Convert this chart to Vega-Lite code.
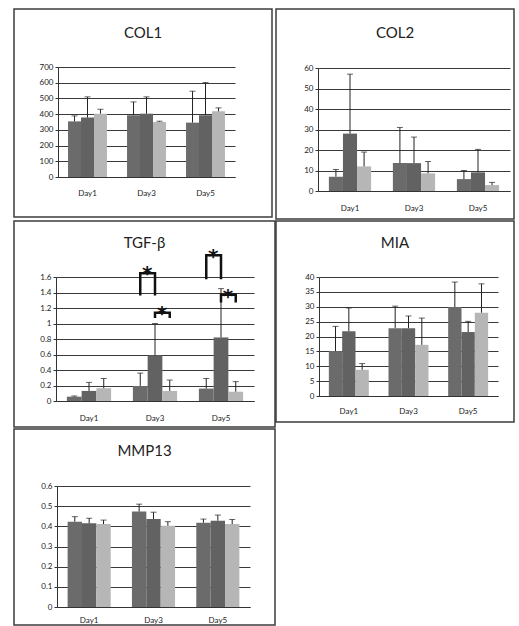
{
  "$schema": "https://vega.github.io/schema/vega-lite/v6.json",
  "padding": {"left": 13, "top": 8, "right": 0, "bottom": 0},
  "background": "white",
  "config": {
    "view": {"stroke": "#3c3c3c", "strokeWidth": 1.5},
    "font": "Lato",
    "title": {"font": "Lato", "fontSize": 15, "fontWeight": "normal", "color": "#222", "anchor": "middle", "frame": "group", "baseline": "middle"},
    "axis": {"labelFont": "Lato", "labelFontSize": 8, "labelColor": "#222", "domainColor": "#333", "domainWidth": 1, "tickColor": "#333", "gridColor": "#3a3a3a", "gridWidth": 1, "labelOverlap": false},
    "axisX": {"ticks": false, "grid": false, "labelAngle": 0},
    "axisY": {"tickSize": 3, "labelPadding": 2, "grid": true, "labelExpr": "format(datum.value, '~g')"}
  },
  "datasets": {
    "bars": [
      {"gene": "COL1", "day": "Day1", "group": "A", "value": 354, "upper": 389},
      {"gene": "COL1", "day": "Day1", "group": "B", "value": 378, "upper": 510},
      {"gene": "COL1", "day": "Day1", "group": "C", "value": 403, "upper": 431},
      {"gene": "COL1", "day": "Day3", "group": "A", "value": 393, "upper": 478},
      {"gene": "COL1", "day": "Day3", "group": "B", "value": 403, "upper": 510},
      {"gene": "COL1", "day": "Day3", "group": "C", "value": 350, "upper": 355},
      {"gene": "COL1", "day": "Day5", "group": "A", "value": 346, "upper": 546},
      {"gene": "COL1", "day": "Day5", "group": "B", "value": 393, "upper": 601},
      {"gene": "COL1", "day": "Day5", "group": "C", "value": 418, "upper": 440},
      {"gene": "COL2", "day": "Day1", "group": "A", "value": 7, "upper": 10.5},
      {"gene": "COL2", "day": "Day1", "group": "B", "value": 28, "upper": 57},
      {"gene": "COL2", "day": "Day1", "group": "C", "value": 12, "upper": 19},
      {"gene": "COL2", "day": "Day3", "group": "A", "value": 13.6, "upper": 31},
      {"gene": "COL2", "day": "Day3", "group": "B", "value": 13.6, "upper": 26.3},
      {"gene": "COL2", "day": "Day3", "group": "C", "value": 8.6, "upper": 14.4},
      {"gene": "COL2", "day": "Day5", "group": "A", "value": 5.8, "upper": 10},
      {"gene": "COL2", "day": "Day5", "group": "B", "value": 9.1, "upper": 20.3},
      {"gene": "COL2", "day": "Day5", "group": "C", "value": 2.9, "upper": 4.2},
      {"gene": "TGF", "day": "Day1", "group": "A", "value": 0.056, "upper": 0.065},
      {"gene": "TGF", "day": "Day1", "group": "B", "value": 0.13, "upper": 0.24},
      {"gene": "TGF", "day": "Day1", "group": "C", "value": 0.165, "upper": 0.29},
      {"gene": "TGF", "day": "Day3", "group": "A", "value": 0.195, "upper": 0.36},
      {"gene": "TGF", "day": "Day3", "group": "B", "value": 0.59, "upper": 1.0},
      {"gene": "TGF", "day": "Day3", "group": "C", "value": 0.13, "upper": 0.27},
      {"gene": "TGF", "day": "Day5", "group": "A", "value": 0.16, "upper": 0.29},
      {"gene": "TGF", "day": "Day5", "group": "B", "value": 0.82, "upper": 1.45},
      {"gene": "TGF", "day": "Day5", "group": "C", "value": 0.12, "upper": 0.25},
      {"gene": "MIA", "day": "Day1", "group": "A", "value": 15.1, "upper": 23.4},
      {"gene": "MIA", "day": "Day1", "group": "B", "value": 21.8, "upper": 29.6},
      {"gene": "MIA", "day": "Day1", "group": "C", "value": 8.8, "upper": 10.9},
      {"gene": "MIA", "day": "Day3", "group": "A", "value": 22.8, "upper": 30.2},
      {"gene": "MIA", "day": "Day3", "group": "B", "value": 22.8, "upper": 26.9},
      {"gene": "MIA", "day": "Day3", "group": "C", "value": 17.2, "upper": 26.2},
      {"gene": "MIA", "day": "Day5", "group": "A", "value": 29.9, "upper": 38.3},
      {"gene": "MIA", "day": "Day5", "group": "B", "value": 21.5, "upper": 25.1},
      {"gene": "MIA", "day": "Day5", "group": "C", "value": 28, "upper": 37.7},
      {"gene": "MMP13", "day": "Day1", "group": "A", "value": 0.423, "upper": 0.448},
      {"gene": "MMP13", "day": "Day1", "group": "B", "value": 0.415, "upper": 0.44},
      {"gene": "MMP13", "day": "Day1", "group": "C", "value": 0.411, "upper": 0.431},
      {"gene": "MMP13", "day": "Day3", "group": "A", "value": 0.473, "upper": 0.51},
      {"gene": "MMP13", "day": "Day3", "group": "B", "value": 0.436, "upper": 0.47},
      {"gene": "MMP13", "day": "Day3", "group": "C", "value": 0.403, "upper": 0.423},
      {"gene": "MMP13", "day": "Day5", "group": "A", "value": 0.418, "upper": 0.436},
      {"gene": "MMP13", "day": "Day5", "group": "B", "value": 0.428, "upper": 0.456},
      {"gene": "MMP13", "day": "Day5", "group": "C", "value": 0.411, "upper": 0.434}
    ],
    "brackets": [
      {"gene": "TGF", "bid": "b1", "ord": 1, "day": "Day3", "group": "A", "yv": 1.36},
      {"gene": "TGF", "bid": "b1", "ord": 2, "day": "Day3", "group": "A", "yv": 1.65},
      {"gene": "TGF", "bid": "b1", "ord": 3, "day": "Day3", "group": "B", "yv": 1.65},
      {"gene": "TGF", "bid": "b1", "ord": 4, "day": "Day3", "group": "B", "yv": 1.36},
      {"gene": "TGF", "bid": "b2", "ord": 1, "day": "Day3", "group": "B", "yv": 1.07},
      {"gene": "TGF", "bid": "b2", "ord": 2, "day": "Day3", "group": "B", "yv": 1.14},
      {"gene": "TGF", "bid": "b2", "ord": 3, "day": "Day3", "group": "C", "yv": 1.14},
      {"gene": "TGF", "bid": "b2", "ord": 4, "day": "Day3", "group": "C", "yv": 1.07},
      {"gene": "TGF", "bid": "b3", "ord": 1, "day": "Day5", "group": "A", "yv": 1.57},
      {"gene": "TGF", "bid": "b3", "ord": 2, "day": "Day5", "group": "A", "yv": 1.88},
      {"gene": "TGF", "bid": "b3", "ord": 3, "day": "Day5", "group": "B", "yv": 1.88},
      {"gene": "TGF", "bid": "b3", "ord": 4, "day": "Day5", "group": "B", "yv": 1.57},
      {"gene": "TGF", "bid": "b4", "ord": 1, "day": "Day5", "group": "B", "yv": 1.27},
      {"gene": "TGF", "bid": "b4", "ord": 2, "day": "Day5", "group": "B", "yv": 1.37},
      {"gene": "TGF", "bid": "b4", "ord": 3, "day": "Day5", "group": "C", "yv": 1.37},
      {"gene": "TGF", "bid": "b4", "ord": 4, "day": "Day5", "group": "C", "yv": 1.27}
    ],
    "stars": [
      {"gene": "TGF", "day": "Day3", "group": "A", "yv": 1.7},
      {"gene": "TGF", "day": "Day3", "group": "B", "yv": 1.19},
      {"gene": "TGF", "day": "Day5", "group": "A", "yv": 1.92},
      {"gene": "TGF", "day": "Day5", "group": "B", "yv": 1.41}
    ]
  },
  "spacing": 0,
  "resolve": {"scale": {"xOffset": "independent"}},
  "vconcat": [
    {
      "spacing": 2,
      "resolve": {"scale": {"xOffset": "independent"}},
      "hconcat": [
        {
          "width": 258, "height": 208,
          "title": {"text": "COL1", "offset": -32},
          "data": {"name": "bars"},
          "transform": [{"filter": "datum.gene === 'COL1'"}],
          "encoding": {
            "x": {"field": "day", "type": "nominal", "title": null, "scale": {"domain": ["Day1", "Day3", "Day5"], "range": [44, 221], "paddingInner": 0.34, "paddingOuter": 0.17}, "axis": {"orient": "bottom", "offset": -40, "labelPadding": 12}},
            "xOffset": {"field": "group", "type": "nominal", "scale": {"domain": ["A", "B", "C"], "paddingInner": 0, "paddingOuter": 0}}
          },
          "layer": [
            {"mark": {"type": "bar"}, "encoding": {
              "y": {"field": "value", "type": "quantitative", "title": null, "scale": {"domain": [0, 700], "range": [168, 58], "nice": false}, "axis": {"offset": -44, "values": [0, 100, 200, 300, 400, 500, 600, 700], "tickCount": 8}},
              "color": {"field": "group", "type": "nominal", "scale": {"domain": ["A", "B", "C"], "range": ["#6b6b6b", "#626262", "#b6b6b6"]}, "legend": null}}},
            {"mark": {"type": "rule", "color": "#222", "strokeWidth": 1}, "encoding": {"y": {"field": "value", "type": "quantitative", "title": null, "axis": {"offset": -44, "values": [0, 100, 200, 300, 400, 500, 600, 700], "tickCount": 8}}, "y2": {"field": "upper"}}},
            {"mark": {"type": "tick", "color": "#222", "thickness": 1, "size": 6}, "encoding": {"y": {"field": "upper", "type": "quantitative", "title": null, "axis": {"offset": -44, "values": [0, 100, 200, 300, 400, 500, 600, 700], "tickCount": 8}}}}
          ]
        },
        {
          "width": 238, "height": 210,
          "title": {"text": "COL2", "offset": -32},
          "data": {"name": "bars"},
          "transform": [{"filter": "datum.gene === 'COL2'"}],
          "encoding": {
            "x": {"field": "day", "type": "nominal", "title": null, "scale": {"domain": ["Day1", "Day3", "Day5"], "range": [42, 234], "paddingInner": 0.34, "paddingOuter": 0.17}, "axis": {"orient": "bottom", "offset": -28, "labelPadding": 13}},
            "xOffset": {"field": "group", "type": "nominal", "scale": {"domain": ["A", "B", "C"], "paddingInner": 0, "paddingOuter": 0}}
          },
          "layer": [
            {"mark": {"type": "bar"}, "encoding": {
              "y": {"field": "value", "type": "quantitative", "title": null, "scale": {"domain": [0, 60], "range": [182, 59], "nice": false}, "axis": {"offset": -42, "values": [0, 10, 20, 30, 40, 50, 60], "tickCount": 7}},
              "color": {"field": "group", "type": "nominal", "scale": {"domain": ["A", "B", "C"], "range": ["#6b6b6b", "#626262", "#b6b6b6"]}, "legend": null}}},
            {"mark": {"type": "rule", "color": "#222", "strokeWidth": 1}, "encoding": {"y": {"field": "value", "type": "quantitative", "title": null, "axis": {"offset": -42, "values": [0, 10, 20, 30, 40, 50, 60], "tickCount": 7}}, "y2": {"field": "upper"}}},
            {"mark": {"type": "tick", "color": "#222", "thickness": 1, "size": 6}, "encoding": {"y": {"field": "upper", "type": "quantitative", "title": null, "axis": {"offset": -42, "values": [0, 10, 20, 30, 40, 50, 60], "tickCount": 7}}}}
          ]
        }
      ]
    },
    {
      "spacing": -1,
      "resolve": {"scale": {"xOffset": "independent"}},
      "hconcat": [
        {
          "width": 261, "height": 206,
          "title": {"text": "TGF-β", "offset": -30},
          "data": {"name": "bars"},
          "transform": [{"filter": "datum.gene === 'TGF'"}],
          "encoding": {
            "x": {"field": "day", "type": "nominal", "title": null, "scale": {"domain": ["Day1", "Day3", "Day5"], "range": [42, 240], "paddingInner": 0.33, "paddingOuter": 0.165}, "axis": {"orient": "bottom", "offset": -26, "labelPadding": 13}},
            "xOffset": {"field": "group", "type": "nominal", "scale": {"domain": ["A", "B", "C"], "paddingInner": 0, "paddingOuter": 0}}
          },
          "layer": [
            {"mark": {"type": "bar"}, "encoding": {
              "y": {"field": "value", "type": "quantitative", "title": null, "scale": {"domain": [0, 1.6], "range": [180, 56], "nice": false}, "axis": {"offset": -42, "values": [0, 0.2, 0.4, 0.6, 0.8, 1, 1.2, 1.4, 1.6], "tickCount": 9}},
              "color": {"field": "group", "type": "nominal", "scale": {"domain": ["A", "B", "C"], "range": ["#6b6b6b", "#626262", "#b6b6b6"]}, "legend": null}}},
            {"mark": {"type": "rule", "color": "#222", "strokeWidth": 1}, "encoding": {"y": {"field": "value", "type": "quantitative", "title": null, "axis": {"offset": -42, "values": [0, 0.2, 0.4, 0.6, 0.8, 1, 1.2, 1.4, 1.6], "tickCount": 9}}, "y2": {"field": "upper"}}},
            {"mark": {"type": "tick", "color": "#222", "thickness": 1, "size": 6}, "encoding": {"y": {"field": "upper", "type": "quantitative", "title": null, "axis": {"offset": -42, "values": [0, 0.2, 0.4, 0.6, 0.8, 1, 1.2, 1.4, 1.6], "tickCount": 9}}}},
            {"data": {"name": "brackets"}, "mark": {"type": "line", "color": "#111", "strokeWidth": 2.5, "strokeJoin": "miter"}, "encoding": {"y": {"field": "yv", "type": "quantitative", "title": null, "axis": {"offset": -42, "values": [0, 0.2, 0.4, 0.6, 0.8, 1, 1.2, 1.4, 1.6], "tickCount": 9}}, "detail": {"field": "bid"}, "order": {"field": "ord", "type": "quantitative"}}},
            {"data": {"name": "stars"}, "mark": {"type": "text", "text": "*", "dx": 7, "dy": 5, "fontSize": 20, "fontWeight": "bold", "font": "DejaVu Sans", "color": "#111"}, "encoding": {"y": {"field": "yv", "type": "quantitative", "title": null, "axis": {"offset": -42, "values": [0, 0.2, 0.4, 0.6, 0.8, 1, 1.2, 1.4, 1.6], "tickCount": 9}}}}
          ]
        },
        {
          "width": 238, "height": 201,
          "title": {"text": "MIA", "offset": -30},
          "data": {"name": "bars"},
          "transform": [{"filter": "datum.gene === 'MIA'"}],
          "encoding": {
            "x": {"field": "day", "type": "nominal", "title": null, "scale": {"domain": ["Day1", "Day3", "Day5"], "range": [43, 222], "paddingInner": 0.33, "paddingOuter": 0.165}, "axis": {"orient": "bottom", "offset": -26, "labelPadding": 11}},
            "xOffset": {"field": "group", "type": "nominal", "scale": {"domain": ["A", "B", "C"], "paddingInner": 0, "paddingOuter": 0}}
          },
          "layer": [
            {"mark": {"type": "bar"}, "encoding": {
              "y": {"field": "value", "type": "quantitative", "title": null, "scale": {"domain": [0, 40], "range": [175, 56], "nice": false}, "axis": {"offset": -43, "values": [0, 5, 10, 15, 20, 25, 30, 35, 40], "tickCount": 9}},
              "color": {"field": "group", "type": "nominal", "scale": {"domain": ["A", "B", "C"], "range": ["#6b6b6b", "#626262", "#b6b6b6"]}, "legend": null}}},
            {"mark": {"type": "rule", "color": "#222", "strokeWidth": 1}, "encoding": {"y": {"field": "value", "type": "quantitative", "title": null, "axis": {"offset": -43, "values": [0, 5, 10, 15, 20, 25, 30, 35, 40], "tickCount": 9}}, "y2": {"field": "upper"}}},
            {"mark": {"type": "tick", "color": "#222", "thickness": 1, "size": 6}, "encoding": {"y": {"field": "upper", "type": "quantitative", "title": null, "axis": {"offset": -43, "values": [0, 5, 10, 15, 20, 25, 30, 35, 40], "tickCount": 9}}}}
          ]
        }
      ]
    },
    {
      "spacing": 2,
      "resolve": {"scale": {"xOffset": "independent"}},
      "hconcat": [
        {
          "width": 261, "height": 196,
          "title": {"text": "MMP13", "offset": -30},
          "data": {"name": "bars"},
          "transform": [{"filter": "datum.gene === 'MMP13'"}],
          "encoding": {
            "x": {"field": "day", "type": "nominal", "title": null, "scale": {"domain": ["Day1", "Day3", "Day5"], "range": [43, 236], "paddingInner": 0.33, "paddingOuter": 0.165}, "axis": {"orient": "bottom", "offset": -18, "labelPadding": 9}},
            "xOffset": {"field": "group", "type": "nominal", "scale": {"domain": ["A", "B", "C"], "paddingInner": 0, "paddingOuter": 0}}
          },
          "layer": [
            {"mark": {"type": "bar"}, "encoding": {
              "y": {"field": "value", "type": "quantitative", "title": null, "scale": {"domain": [0, 0.6], "range": [178, 57], "nice": false}, "axis": {"offset": -43, "values": [0, 0.1, 0.2, 0.3, 0.4, 0.5, 0.6], "tickCount": 7}},
              "color": {"field": "group", "type": "nominal", "scale": {"domain": ["A", "B", "C"], "range": ["#6b6b6b", "#626262", "#b6b6b6"]}, "legend": null}}},
            {"mark": {"type": "rule", "color": "#222", "strokeWidth": 1}, "encoding": {"y": {"field": "value", "type": "quantitative", "title": null, "axis": {"offset": -43, "values": [0, 0.1, 0.2, 0.3, 0.4, 0.5, 0.6], "tickCount": 7}}, "y2": {"field": "upper"}}},
            {"mark": {"type": "tick", "color": "#222", "thickness": 1, "size": 6}, "encoding": {"y": {"field": "upper", "type": "quantitative", "title": null, "axis": {"offset": -43, "values": [0, 0.1, 0.2, 0.3, 0.4, 0.5, 0.6], "tickCount": 7}}}}
          ]
        }
      ]
    }
  ]
}
